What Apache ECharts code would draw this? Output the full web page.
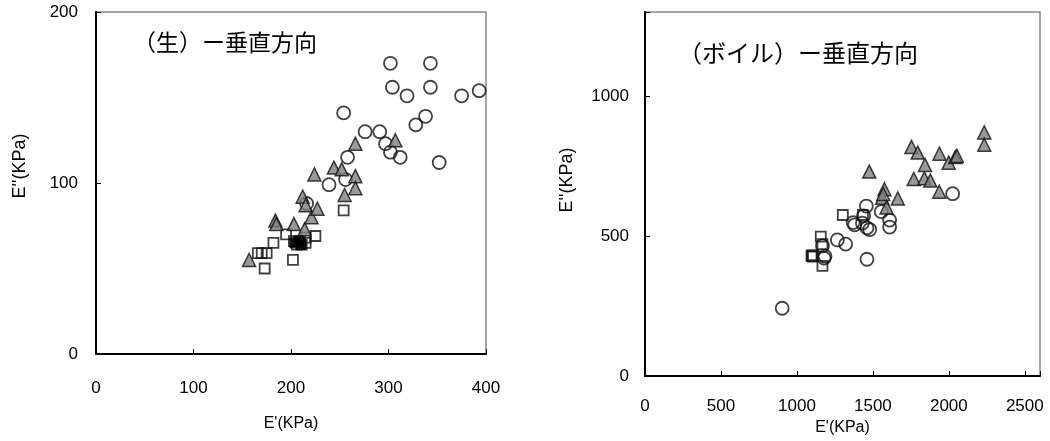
<!DOCTYPE html>
<html>
<head>
<meta charset="utf-8">
<script src="https://cdn.jsdelivr.net/npm/echarts@6/dist/echarts.min.js"></script>
<style>
html,body{margin:0;padding:0;background:#fff;}
#chart{width:1050px;height:441px;}
</style>
</head>
<body>
<div id="chart"></div>
<script>
// ---- Data: left chart (生) ----
var rawCircles = [[302,170],[343,170],[304,156],[343,156],[319,151],[375,151],[393,154],[254,141],[338,139],[328,134],[276,130],[291,130],[297,123],[302,118],[312,115],[258,115],[352,112],[256,102],[239,99],[216,88]];
var rawSquares = [[166,59],[170,59],[175,59],[173,50],[182,65],[195,70],[202,55],[215,68],[215,65],[225,69],[254,84],[203,66],[206,64],[209,66],[211,64]];
var rawFilled = [[204,65],[208,66],[210,64]];
var rawTriangles = [[157,55],[184,78],[185,76],[203,76],[214,73],[212,92],[215,87],[221,80],[227,85],[224,105],[244,109],[252,108],[266,123],[266,104],[266,97],[255,93],[307,125]];
// ---- Data: right chart (ボイル) ----
var boilCircles = [[903,242],[1461,417],[1179,421],[1185,428],[1168,465],[1266,486],[1321,471],[1380,540],[1370,548],[1457,607],[1431,546],[1439,572],[1461,529],[1479,523],[1555,587],[1610,557],[1610,532],[2025,651]];
var boilSquares = [[1302,575],[1434,575],[1157,498],[1168,471],[1096,428],[1100,432],[1106,426],[1168,393]];
var boilTriangles = [[1476,730],[1576,667],[1561,637],[1590,602],[1664,634],[1568,650],[1754,818],[1795,798],[1843,754],[1769,704],[1839,706],[1878,698],[1938,794],[1937,658],[1999,762],[2043,782],[2053,786],[2233,870],[2233,826]];
// ---- Text ----
var leftTitle = '（生）ー垂直方向';
var rightTitle = '（ボイル）ー垂直方向';
var xName = "E'(KPa)";
var yName = "E''(KPa)";

var chart = echarts.init(document.getElementById('chart'));
var LATIN = '"Liberation Sans", Arial, sans-serif';
var CJK = '"Noto Sans CJK JP", sans-serif';

function xAxisDef(gi, max, interval, gap, margin){
  return {
    type:'value', gridIndex:gi, min:0, max:max, interval:interval,
    name:xName, nameLocation:'middle', nameGap:gap,
    nameTextStyle:{fontFamily:LATIN, fontSize:16, color:'#000'},
    axisLine:{show:true, lineStyle:{color:'#000', width:2}},
    axisTick:{show:true, inside:true, length:5, lineStyle:{color:'#000', width:1}},
    axisLabel:{fontFamily:LATIN, fontSize:17, color:'#000', margin:margin,
      formatter:function(v){ return v % interval === 0 ? String(v) : ''; }},
    splitLine:{show:false}
  };
}
function yAxisDef(gi, max, interval, margin){
  return {
    type:'value', gridIndex:gi, min:0, max:max, interval:interval,
    axisLine:{show:true, lineStyle:{color:'#000', width:2}},
    axisTick:{show:true, inside:true, length:5, lineStyle:{color:'#000', width:1}},
    axisLabel:{fontFamily:LATIN, fontSize:17, color:'#000', margin:margin,
      formatter:function(v){ return v % interval === 0 ? String(v) : ''; }},
    splitLine:{show:false}
  };
}
var circleStyle = {color:'rgba(0,0,0,0)', borderColor:'#111', borderWidth:1.8};
var squareStyle = {color:'rgba(0,0,0,0)', borderColor:'#111', borderWidth:1.8};
var triStyle = {color:'#7f7f7f', borderColor:'#111', borderWidth:1.5};

function sc(gi, data, symbol, size, style){
  return {type:'scatter', xAxisIndex:gi, yAxisIndex:gi, data:data, symbol:symbol,
    symbolSize:size, itemStyle:style, silent:true, animation:false};
}

chart.setOption({
  animation:false,
  grid:[
    {left:96, top:12, width:390, height:342, show:true, borderColor:'#888', borderWidth:1.5},
    {left:645, top:12, width:395, height:372, show:true, borderColor:'#888', borderWidth:1.5}
  ],
  xAxis:[ xAxisDef(0, 400, 100, 62, 26), xAxisDef(1, 2600, 500, 44, 22) ],
  yAxis:[ yAxisDef(0, 200, 100, 18), yAxisDef(1, 1300, 500, 16) ],
  series:[
    sc(0, rawCircles, 'circle', 13, circleStyle),
    sc(0, rawSquares, 'rect', 10, squareStyle),
    sc(0, rawFilled, 'rect', 10, {color:'#000', borderColor:'#000', borderWidth:1}),
    sc(0, rawTriangles, 'triangle', 13, triStyle),
    sc(1, boilCircles, 'circle', 13, circleStyle),
    sc(1, boilSquares, 'rect', 10, squareStyle),
    sc(1, boilTriangles, 'triangle', 13, triStyle)
  ],
  graphic:[
    {type:'text', left:133, top:31, style:{text:leftTitle, font:'23px ' + CJK, fill:'#000'}},
    {type:'text', left:678, top:41, style:{text:rightTitle, font:'24px ' + CJK, fill:'#000'}},
    {type:'text', x:20, y:166, rotation:Math.PI/2, style:{text:yName, font:'18px ' + LATIN, fill:'#000', align:'center', verticalAlign:'middle'}},
    {type:'text', x:567, y:180, rotation:Math.PI/2, style:{text:yName, font:'18px ' + LATIN, fill:'#000', align:'center', verticalAlign:'middle'}}
  ]
});
</script>
</body>
</html>
